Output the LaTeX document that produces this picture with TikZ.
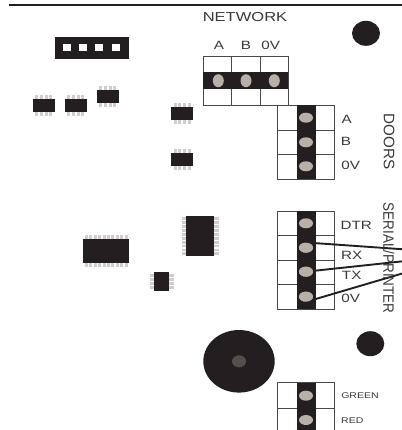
\documentclass[tikz,border=0pt]{standalone}
\usepackage{fontspec}
\setmainfont[FakeStretch=1.27]{Liberation Sans}
\newfontfamily\doorsfont{Liberation Sans}
\newfontfamily\serialfont[FakeStretch=0.9]{Liberation Sans}
\usetikzlibrary{shapes.geometric}
\definecolor{ink}{HTML}{231F20}
\definecolor{padgrey}{HTML}{B8AFA9}
\definecolor{leadgrey}{HTML}{D2CDCA}
\definecolor{textgrey}{HTML}{3A3839}
\definecolor{cellgrey}{HTML}{4A4849}

\begin{document}
\begin{tikzpicture}[scale=0.03515]
\tikzstyle{every node}+=[inner sep=0pt]
\tikzstyle{padh}=[ellipse,fill=padgrey,minimum width=11pt,minimum height=13pt]
\tikzstyle{padv}=[ellipse,fill=padgrey,minimum width=14pt,minimum height=10pt]
\tikzstyle{hole}=[ellipse,fill=ink,minimum width=28pt,minimum height=25pt]
\tikzstyle{chip}=[fill=ink]
\tikzstyle{pin}=[text=textgrey,font=\fontsize{12}{14}\selectfont]
\tikzstyle{title}=[text=textgrey,font=\fontsize{13}{15}\selectfont]
\tikzstyle{small}=[text=textgrey,font=\fontsize{8.3}{10}\selectfont]
\tikzstyle{cell}=[cellgrey,line width=1pt]
\tikzstyle{wire}=[ink,line width=1.9pt]
\useasboundingbox (0,0) rectangle (402,-430);
\draw [ink,line width=2.7pt] (9,-5) -- (402,-5);
% network
\draw [cell] (203.3,-56) rectangle (288.3,-105);
\draw [cell] (231.7,-56) -- (231.7,-105);
\draw [cell] (260,-56) -- (260,-105);
\fill [ink] (203.3,-72) rectangle (288.3,-88.7);
\node [padh] (netA) at (218.3,-80.7) {};
\node [padh] (netB) at (246,-80.7) {};
\node [padh] (netV) at (274.3,-80.7) {};
\node [title] (network) at (245,-16.7) {NETWORK};
\node [pin] (labA) at (219,-45) {A};
\node [pin] (labB) at (246,-45) {B};
\node [pin] (labV) at (270.7,-45) {0V};
% doors
\draw [cell] (277.7,-105.3) rectangle (334,-179.3);
\draw [cell] (277.7,-130) -- (334,-130);
\draw [cell] (277.7,-154.3) -- (334,-154.3);
\fill [ink] (296.7,-105.3) rectangle (315.7,-179.3);
\node [padv] (doorA) at (306,-117.7) {};
\node [padv] (doorB) at (306,-142.3) {};
\node [padv] (doorV) at (306,-166.3) {};
\node [pin] (labdoorA) at (346.7,-119) {A};
\node [pin] (labdoorB) at (346,-141.7) {B};
\node [pin] (labdoorV) at (350.7,-165.7) {0V};
\node [text=textgrey,rotate=-90,font=\doorsfont\fontsize{15.2}{17}\selectfont] (doors) at (389,-141.7) {DOORS};
% serial
\coordinate (endRX) at (403,-249.3);
\coordinate (endTX) at (403,-261.3);
\coordinate (endV) at (403,-273.3);
\draw [cell] (277.7,-211) rectangle (334,-309.3);
\draw [cell] (277.7,-235.7) -- (334,-235.7);
\draw [cell] (277.7,-260.3) -- (334,-260.3);
\draw [cell] (277.7,-284.7) -- (334,-284.7);
\fill [ink] (296.7,-211) rectangle (315.7,-309.3);
\node [padv] (serDTR) at (306,-223.3) {};
\node [padv] (serRX) at (306,-247.7) {};
\node [padv] (serTX) at (306,-271.7) {};
\node [padv] (serV) at (306,-296.7) {};
\draw [wire] (serRX.north) -- (endRX);
\draw [wire] (serTX) -- (endTX);
\draw [wire] (serV.south) -- (endV);
\node [padv] at (serRX) {};
\node [padv] at (serTX) {};
\node [padv] at (serV) {};
\node [pin] (labDTR) at (356.3,-225.7) {DTR};
\node [pin] (labRX) at (351.7,-255.7) {RX};
\node [pin] (labTX) at (351.7,-275.7) {TX};
\node [pin] (labserV) at (350.7,-298.3) {0V};
\node [text=textgrey,rotate=-90,font=\serialfont\fontsize{15}{17}\selectfont] (serial) at (388.7,-258) {SERIAL/PRINTER};
% leds
\draw [cell] (277.7,-430) -- (277.7,-382.7) -- (334,-382.7) -- (334,-430);
\draw [cell] (277.7,-408) -- (334,-408);
\fill [ink] (296.7,-382.7) rectangle (315.7,-430);
\node [padv] (ledG) at (306,-395.7) {};
\node [padv] (ledR) at (306,-420) {};
\node [small] (green) at (360,-395.7) {GREEN};
\node [small] (red) at (352.3,-420.7) {RED};
% holes and buzzer
\node [hole] (holeA) at (366,-33.3) {};
\node [hole] (holeB) at (370.3,-343.7) {};
\node [ellipse,fill=ink,minimum width=71.4pt,minimum height=62.6pt] (buzzer) at (239,-361.3) {};
\node [ellipse,fill=black!55!padgrey,minimum width=14pt,minimum height=12pt] (buzzerpad) at (239,-361.3) {};
% header
\node [chip,minimum width=74pt,minimum height=22pt] (header) at (92.3,-47.7) {};
\node [fill=white,minimum width=8.3pt,minimum height=7.3pt] (pin1) at (67,-47.3) {};
\node [fill=white,minimum width=8.3pt,minimum height=7.3pt] (pin2) at (83.3,-47.3) {};
\node [fill=white,minimum width=8.3pt,minimum height=7.3pt] (pin3) at (99.3,-47.3) {};
\node [fill=white,minimum width=8.3pt,minimum height=7.3pt] (pin4) at (115.7,-47.3) {};
% chips
\foreach \cx/\cy in {43.7/105.7,75.7/105.7,107.7/96.3,182/113.3,182/159.7}{
  \foreach \dx in {-7,-2.33,2.33,7}
    \fill [leadgrey] (\cx+\dx-1.5,-\cy-10.7) rectangle (\cx+\dx+1.5,-\cy+10.7);
  \node [chip,minimum width=21.7pt,minimum height=13.3pt] at (\cx,-\cy) {};
}
\foreach \dx in {-20,-15.6,-11.1,-6.7,-2.2,2.2,6.7,11.1,15.6,20}
  \fill [leadgrey] (106.2+\dx-1.5,-234.7) rectangle (106.2+\dx+1.5,-266.7);
\node [chip,minimum width=45.7pt,minimum height=24pt] (chipwide) at (106.2,-250.7) {};
\foreach \dy in {-17.5,-13.6,-9.7,-5.8,-1.9,1.9,5.8,9.7,13.6,17.5}
  \fill [leadgrey] (181.6,-236.3+\dy-1.4) rectangle (218.8,-236.3+\dy+1.4);
\node [chip,minimum width=27.7pt,minimum height=40pt] (chiptall) at (200.2,-236.3) {};
\foreach \dy in {-6,-2,2,6}
  \fill [leadgrey] (150,-281.5+\dy-1.4) rectangle (173.6,-281.5+\dy+1.4);
\node [chip,minimum width=15pt,minimum height=19pt] (chipsmall) at (161.8,-281.5) {};
\end{tikzpicture}
\end{document}
